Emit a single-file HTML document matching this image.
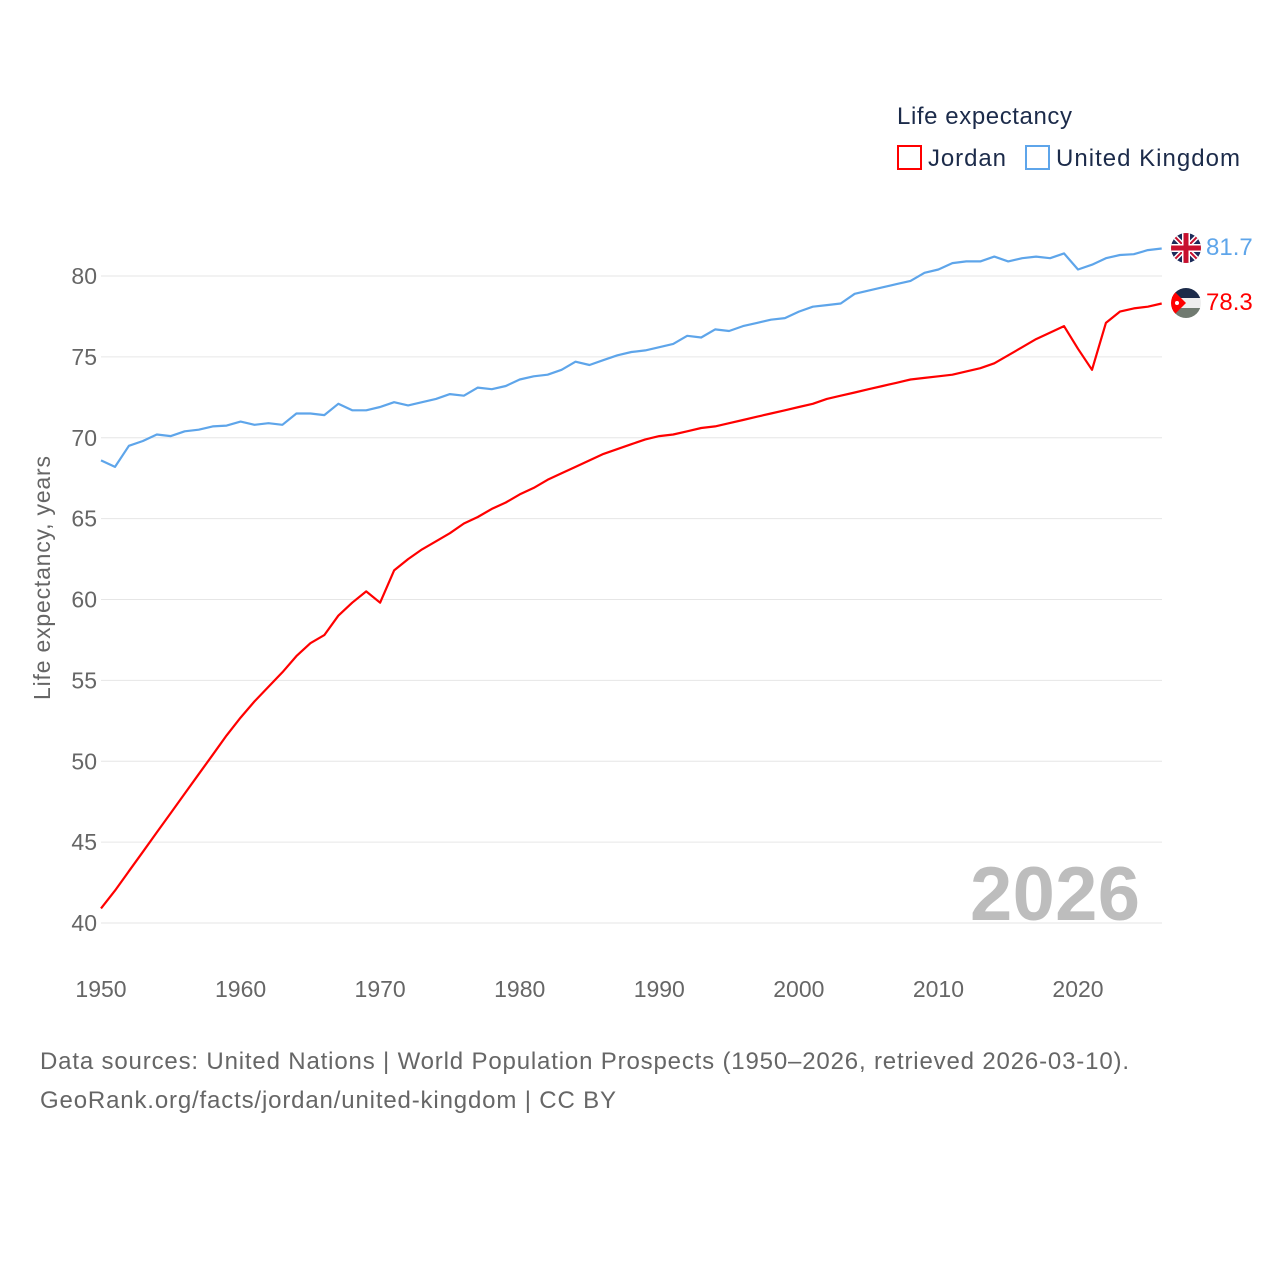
<!DOCTYPE html>
<html><head><meta charset="utf-8"><style>
body{margin:0;background:#fff;font-family:"Liberation Sans",sans-serif}
svg{display:block}
</style></head><body>
<svg id="chart" width="1280" height="1280">
<text x="897" y="124" font-size="24" fill="#1c2b4a" textLength="175">Life expectancy</text>
<g><rect x="898" y="146" width="23" height="23" fill="none" stroke="#ff0000" stroke-width="2"/><text x="928" y="166" font-size="24" fill="#1c2b4a" textLength="78">Jordan</text></g>
<g><rect x="1026" y="146" width="23" height="23" fill="none" stroke="#5ea5ea" stroke-width="2"/><text x="1056" y="166" font-size="24" fill="#1c2b4a" textLength="184">United Kingdom</text></g>
<g id="grid"></g>
<g id="yt"></g><g id="xt"></g>
<text transform="translate(50,578) rotate(-90)" text-anchor="middle" font-size="23" fill="#666" textLength="244">Life expectancy, years</text>
<text x="1140" y="920" text-anchor="end" font-size="76" font-weight="bold" fill="#bdbdbd" textLength="170">2026</text>
<g id="lines"></g>
<g>
<clipPath id="c1"><circle cx="1186" cy="248" r="15"/></clipPath>
<g clip-path="url(#c1)"><rect x="1171" y="233" width="30" height="30" fill="#1c2b5a"/>
<path d="M1171 233L1201 263M1201 233L1171 263" stroke="#fff" stroke-width="5"/>
<path d="M1171 233L1201 263M1201 233L1171 263" stroke="#c8102e" stroke-width="2"/>
<path d="M1186 233V263M1171 248H1201" stroke="#fff" stroke-width="8"/>
<path d="M1186 233V263M1171 248H1201" stroke="#c8102e" stroke-width="5"/></g></g>
<g>
<clipPath id="c2"><circle cx="1186" cy="303" r="15"/></clipPath>
<g clip-path="url(#c2)"><rect x="1171" y="288" width="30" height="10" fill="#1c2b4a"/><rect x="1171" y="298" width="30" height="10" fill="#eee"/><rect x="1171" y="308" width="30" height="10" fill="#707a70"/>
<path d="M1171 288L1186 303L1171 318Z" fill="#ff0000"/><circle cx="1177" cy="303" r="2" fill="#fff"/></g></g>
<text x="1206" y="255" font-size="24" fill="#5ea5ea">81.7</text>
<text x="1206" y="310" font-size="24" fill="#ff0000">78.3</text>
<text x="40" y="1069" font-size="24" fill="#666" textLength="1089">Data sources: United Nations | World Population Prospects (1950–2026, retrieved 2026-03-10).</text>
<text x="40" y="1108" font-size="24" fill="#666" textLength="576">GeoRank.org/facts/jordan/united-kingdom | CC BY</text>
</svg>
<script>
const startYear=1950;
const ukValues=[68.6,68.2,69.5,69.8,70.2,70.1,70.4,70.5,70.7,70.75,71.0,70.8,70.9,70.8,71.5,71.5,71.4,72.1,71.7,71.7,71.9,72.2,72.0,72.2,72.4,72.7,72.6,73.1,73.0,73.2,73.6,73.8,73.9,74.2,74.7,74.5,74.8,75.1,75.3,75.4,75.6,75.8,76.3,76.2,76.7,76.6,76.9,77.1,77.3,77.4,77.8,78.1,78.2,78.3,78.9,79.1,79.3,79.5,79.7,80.2,80.4,80.8,80.9,80.9,81.2,80.9,81.1,81.2,81.1,81.4,80.4,80.7,81.1,81.3,81.35,81.6,81.7];
const jordanValues=[40.9,42.0,43.2,44.4,45.6,46.8,48.0,49.2,50.4,51.6,52.7,53.7,54.6,55.5,56.5,57.3,57.8,59.0,59.8,60.5,59.8,61.8,62.5,63.1,63.6,64.1,64.7,65.1,65.6,66.0,66.5,66.9,67.4,67.8,68.2,68.6,69.0,69.3,69.6,69.9,70.1,70.2,70.4,70.6,70.7,70.9,71.1,71.3,71.5,71.7,71.9,72.1,72.4,72.6,72.8,73.0,73.2,73.4,73.6,73.7,73.8,73.9,74.1,74.3,74.6,75.1,75.6,76.1,76.5,76.9,75.5,74.2,77.1,77.8,78.0,78.1,78.3];
const yTicks=[40,45,50,55,60,65,70,75,80];
const xTicks=[1950,1960,1970,1980,1990,2000,2010,2020];
const NS="http://www.w3.org/2000/svg";
const X=y=>101+(y-1950)*(977/70);
const Y=v=>276+(80-v)*(647/40);
function mk(t,a,p){const e=document.createElementNS(NS,t);for(const k in a)e.setAttribute(k,a[k]);document.getElementById(p).appendChild(e);return e;}
yTicks.forEach(v=>{
 const l=mk('line',{x1:101,x2:1162,y1:Y(v),y2:Y(v),stroke:'#e6e6e6','stroke-width':1},'grid');
 
 
 const t=mk('text',{x:97,y:Y(v)+8,'text-anchor':'end','font-size':23,fill:'#666'},'yt');t.textContent=v;
 
 
});
xTicks.forEach(v=>{
 const t=mk('text',{x:X(v),y:997,'text-anchor':'middle','font-size':23,fill:'#666'},'xt');t.textContent=v;
 
 
});
function line(vals,col,name){
 const d=vals.map((v,i)=>(i?'L':'M')+X(startYear+i).toFixed(1)+' '+Y(v).toFixed(1)).join('');
 const p=mk('path',{d:d,fill:'none',stroke:col,'stroke-width':2.2,'stroke-linejoin':'round'},'lines');
 
 
}
line(ukValues,'#5ea5ea','uk-line');
line(jordanValues,'#ff0000','jordan-line');
</script>
</body></html>
